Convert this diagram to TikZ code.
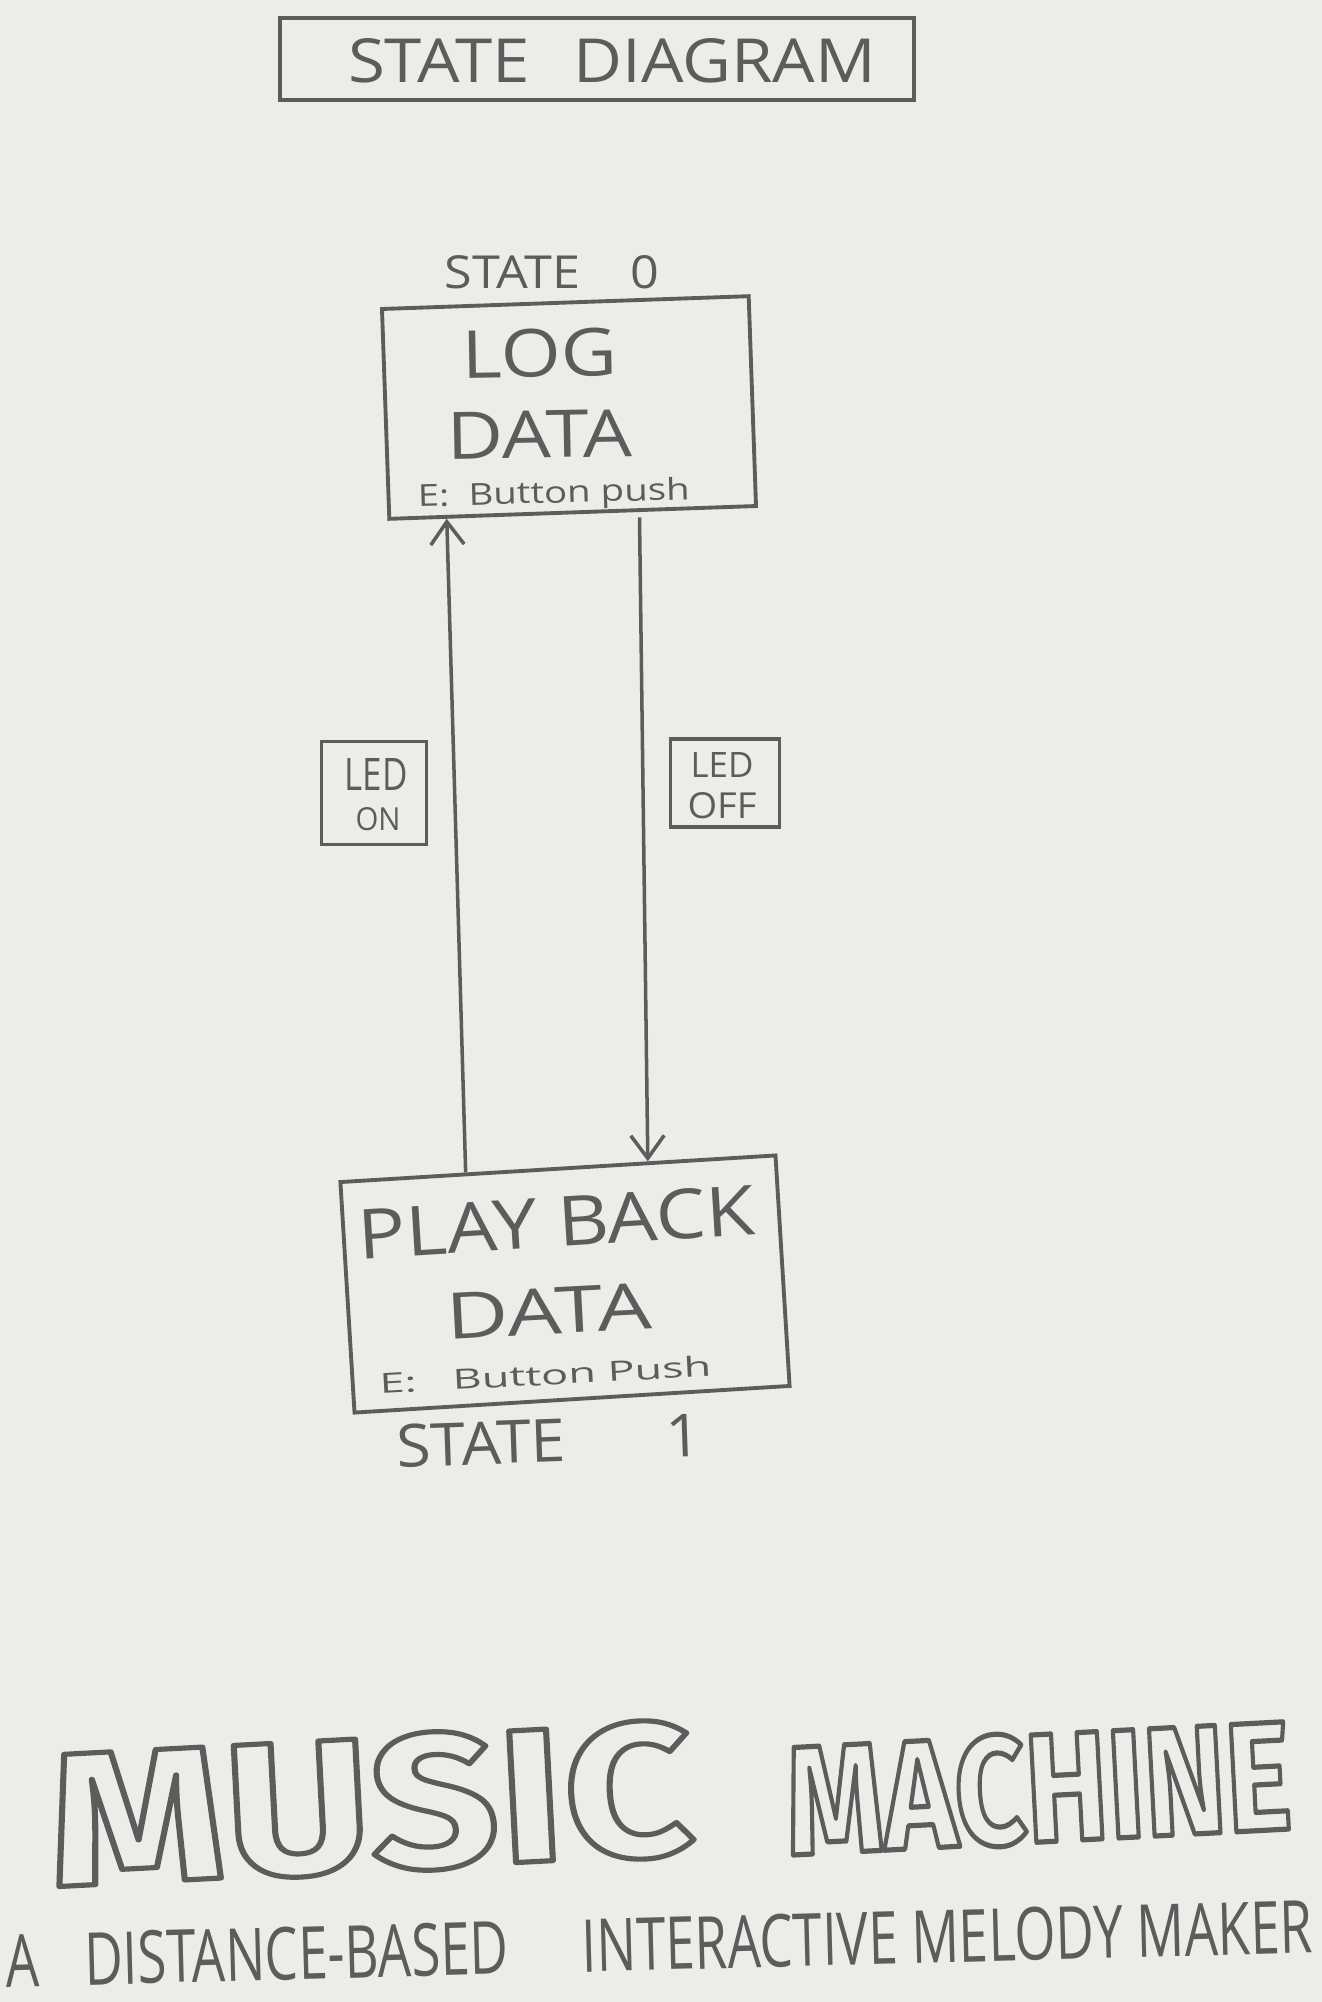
\documentclass[tikz,border=0pt]{standalone}
\usepackage{fontspec}
\setmainfont{Open Sans}
\newfontfamily\blockfont{Fira Sans}
\usepackage{graphicx}
\usetikzlibrary{arrows.meta,calc}
\definecolor{paper}{RGB}{236,236,233}
\definecolor{pencil}{RGB}{92,92,92}
\newcommand{\fitbox}[3]{\resizebox{#1}{#2}{#3}}
\makeatletter
\newcommand{\hollow}[1]{\pgfsys@invoke{ 1 Tr 3.0 w 1 j }#1\pgfsys@invoke{ 0 Tr }}
\makeatother
\begin{document}
\begin{tikzpicture}[x=0.02cm,y=-0.02cm,
  box/.style={draw=pencil, line width=2.2pt, inner sep=0pt},
  tag/.style={draw=pencil, line width=1.8pt, inner sep=0pt},
  hand/.style={text=pencil, inner sep=0pt, anchor=base},
  flow/.style={draw=pencil, line width=2pt, -{Straight Barb[length=13pt,width=19pt]}},
  outline/.style={text=pencil, inner sep=0pt, anchor=base, font=\blockfont\bfseries},
]
\fill[paper] (0,0) rectangle (1322,2002);
\useasboundingbox (0,0) rectangle (1322,2002);

% title
\node[box, minimum width=12.68cm, minimum height=1.64cm] (title) at (597,59) {};
\node[hand] (titletext) at (612,82) {\fitbox{10.56cm}{0.88cm}{STATE\hspace{0.65em}DIAGRAM}};

% state 0
\node[hand] (s0label) at (552,288) {\fitbox{4.3cm}{0.66cm}{STATE\hspace{1em}0}};
\node[box, rotate=2, minimum width=7.34cm, minimum height=4.2cm] (log) at (569,407.5) {};
\node[hand, rotate=1] (logt1) at (540,377) {\fitbox{3.1cm}{0.96cm}{LOG}};
\node[hand, rotate=1] (logt2) at (540,458) {\fitbox{3.7cm}{0.94cm}{DATA}};
\node[hand, rotate=1.5] (logt3) at (554,503) {\fitbox{5.44cm}{0.46cm}{E:\hspace{0.5em}Button push}};

% transition tags
\node[tag, minimum width=2.1cm, minimum height=2.06cm] (ledon) at (374,793) {};
\node[hand] (ledon1) at (376,790) {\fitbox{1.26cm}{0.64cm}{LED}};
\node[hand] (ledon2) at (378,830) {\fitbox{0.9cm}{0.46cm}{ON}};
\node[tag, minimum width=2.18cm, minimum height=1.76cm] (ledoff) at (725,783) {};
\node[hand] (ledoff1) at (722,777) {\fitbox{1.26cm}{0.5cm}{LED}};
\node[hand] (ledoff2) at (722,818) {\fitbox{1.38cm}{0.52cm}{OFF}};

% state 1
\node[box, rotate=3.5, minimum width=8.72cm, minimum height=4.62cm] (play) at (565,1284) {};
\node[hand, rotate=3.5] (playt1) at (558,1247) {\fitbox{7.94cm}{1.0cm}{PLAY BACK}};
\node[hand, rotate=3] (playt2) at (550,1334) {\fitbox{4.1cm}{0.92cm}{DATA}};
\node[hand, rotate=3] (playt3) at (546,1385) {\fitbox{6.64cm}{0.42cm}{E:\hspace{0.8em}Button Push}};
\node[hand, rotate=2] (s1label) at (550,1462) {\fitbox{6.1cm}{0.86cm}{STATE\hspace{1.6em}1}};

% transitions
\draw[flow] ($(play.north west)!0.29!(play.north east)$) -- ($(log.south west)!0.16!(log.south east)$);
\draw[flow, shorten <=3pt] ($(log.south west)!0.68!(log.south east)$) -- ($(play.north west)!0.705!(play.north east)$);

% footer
\node[outline, rotate=3] (music) at (374,1870) {\hollow{\fitbox{12.9cm}{2.7cm}{\fontsize{111pt}{111pt}\selectfont MUSIC}}};
\node[outline, rotate=3] (machine) at (1041,1842) {\hollow{\fitbox{10.1cm}{2.2cm}{\fontsize{90pt}{90pt}\selectfont MACHINE}}};
\node[hand, rotate=1.5] (sub) at (660,1970) {\fitbox{26.14cm}{1.06cm}{A\hspace{0.85em}DISTANCE-BASED\hspace{1.4em}INTERACTIVE MELODY MAKER}};
\end{tikzpicture}
\end{document}
